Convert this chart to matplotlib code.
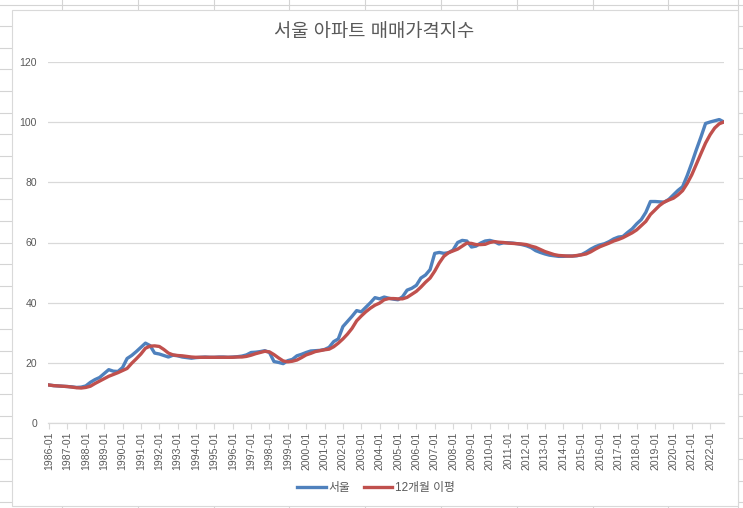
### Seoul apartment price index chart (Excel style look)

import numpy as np
import pandas as pd
import matplotlib
matplotlib.use("Agg")
import matplotlib.pyplot as plt
import matplotlib.dates as mdates
from matplotlib.lines import Line2D
from matplotlib.patches import Rectangle

plt.rcParams['font.family'] = ['Liberation Sans', 'Noto Sans CJK KR', 'DejaVu Sans']

# chart texts
title = '서울 아파트 매매가격지수'
series_names = ['서울', '12개월 이평']

# quarterly readings (Jan, Apr, Jul, Oct) from 1986-01 to 2022-10
seoul = [
    12.7, 12.5, 12.4, 12.3,   # 1986
    12.2, 12.1, 11.9, 12.0,   # 1987
    12.4, 13.6, 14.5, 15.2,   # 1988
    16.5, 17.8, 17.3, 17.2,   # 1989
    18.5, 21.5, 22.5, 23.8,   # 1990
    25.2, 26.6, 25.8, 23.3,   # 1991
    23.0, 22.5, 22.0, 22.6,   # 1992
    22.4, 22.0, 21.8, 21.6,   # 1993
    21.8, 21.9, 22.0, 21.9,   # 1994
    21.9, 22.0, 22.0, 21.9,   # 1995
    22.0, 22.1, 22.3, 22.7,   # 1996
    23.5, 23.6, 23.8, 24.1,   # 1997
    23.5, 20.5, 20.2, 19.8,   # 1998
    20.8, 21.2, 22.4, 22.9,   # 1999
    23.5, 24.0, 24.1, 24.2,   # 2000
    24.5, 25.2, 27.1, 28.0,   # 2001
    32.1, 33.8, 35.5, 37.4,   # 2002
    37.0, 38.5, 40.0, 41.7,   # 2003
    41.3, 41.9, 41.5, 41.2,   # 2004
    41.0, 42.0, 44.2, 44.8,   # 2005
    45.8, 48.2, 49.2, 51.0,   # 2006
    56.4, 56.7, 56.4, 56.6,   # 2007
    57.5, 60.0, 60.7, 60.5,   # 2008
    58.5, 58.8, 59.8, 60.5,   # 2009
    60.7, 60.3, 59.5, 59.9,   # 2010
    59.9, 59.8, 59.6, 59.3,   # 2011
    58.9, 58.3, 57.3, 56.7,   # 2012
    56.2, 55.8, 55.6, 55.4,   # 2013
    55.4, 55.5, 55.5, 55.6,   # 2014
    56.0, 56.8, 57.8, 58.6,   # 2015
    59.2, 59.6, 60.3, 61.2,   # 2016
    61.8, 62.0, 63.3, 64.5,   # 2017
    66.2, 67.6, 70.0, 73.6,   # 2018
    73.6, 73.5, 73.4, 74.3,   # 2019
    75.8, 77.3, 78.5, 82.2,   # 2020
    86.4, 90.8, 95.0, 99.5,   # 2021
    100.0, 100.4, 100.8, 100.0,  # 2022
]

moving_avg = [
    12.7, 12.5, 12.4, 12.3,   # 1986
    12.2, 12.0, 11.8, 11.7,   # 1987
    11.9, 12.3, 13.2, 14.0,   # 1988
    14.8, 15.6, 16.2, 16.8,   # 1989
    17.5, 18.2, 19.9, 21.4,   # 1990
    23.0, 24.9, 25.6, 25.7,   # 1991
    25.5, 24.5, 23.3, 22.7,   # 1992
    22.5, 22.4, 22.2, 22.0,   # 1993
    21.9, 21.9, 21.9, 21.9,   # 1994
    21.9, 21.9, 21.9, 21.9,   # 1995
    21.9, 22.0, 22.0, 22.2,   # 1996
    22.6, 23.1, 23.5, 23.9,   # 1997
    23.7, 22.8, 21.7, 20.7,   # 1998
    20.4, 20.6, 21.0, 21.8,   # 1999
    22.7, 23.2, 23.8, 24.1,   # 2000
    24.4, 24.6, 25.4, 26.6,   # 2001
    28.0, 29.6, 31.5, 34.0,   # 2002
    35.6, 37.0, 38.2, 39.2,   # 2003
    39.9, 41.0, 41.4, 41.4,   # 2004
    41.3, 41.3, 41.8, 42.8,   # 2005
    43.8, 45.2, 46.8, 48.2,   # 2006
    50.5, 53.2, 55.4, 56.6,   # 2007
    57.2, 57.8, 58.8, 59.8,   # 2008
    59.7, 59.3, 59.3, 59.4,   # 2009
    60.0, 60.3, 60.1, 60.0,   # 2010
    59.8, 59.7, 59.6, 59.5,   # 2011
    59.3, 58.8, 58.4, 57.7,   # 2012
    57.0, 56.5, 56.0, 55.7,   # 2013
    55.6, 55.5, 55.5, 55.7,   # 2014
    55.9, 56.2, 56.9, 57.8,   # 2015
    58.6, 59.2, 59.8, 60.5,   # 2016
    61.0, 61.6, 62.4, 63.2,   # 2017
    64.2, 65.6, 67.0, 69.3,   # 2018
    70.8, 72.3, 73.4, 74.1,   # 2019
    74.7, 75.8, 77.2, 79.6,   # 2020
    82.5, 86.0, 89.5, 93.0,   # 2021
    95.8, 98.0, 99.4, 100.0,  # 2022
]

dates = pd.date_range('1986-01-01', periods=len(seoul), freq='QS')

y_ticks = [0, 20, 40, 60, 80, 100, 120]

blue = '#4F81BD'
red = '#C0504D'
text_gray = '#595959'
grid_gray = '#D9D9D9'
cell_gray = '#D4D4D4'

W, H = 743, 508
fig = plt.figure(figsize=(W / 100, H / 100), dpi=100)

# spreadsheet cells behind the chart (pixel coordinates)
bg = fig.add_axes([0, 0, 1, 1], zorder=0)
bg.set_xlim(0, W)
bg.set_ylim(H, 0)
bg.axis('off')
for yy in np.arange(4.5, H, 21.65):
    bg.add_line(Line2D([0, W], [yy, yy], color=cell_gray, lw=0.8))
for xx in np.arange(62, W, 75.8):
    bg.add_line(Line2D([xx, xx], [0, H], color=cell_gray, lw=0.8))
bg.add_line(Line2D([738, 738], [0, H], color=cell_gray, lw=0.8))
# chart area (white box with thin border)
bg.add_patch(Rectangle((12, 9.5), 726, 496.5, facecolor='white',
                       edgecolor=grid_gray, lw=0.8, zorder=3))

# plot area
ax = fig.add_axes([48 / W, (H - 423.3) / H, (724 - 48) / W, (423.3 - 61.7) / H], zorder=2)
ax.patch.set_alpha(0)

ax.plot(dates, seoul, color=blue, lw=2.4, label=series_names[0], zorder=3)
ax.plot(dates, moving_avg, color=red, lw=2.4, label=series_names[1], zorder=4)

ax.set_ylim(0, 120)
ax.set_yticks(y_ticks)
ax.set_xlim(pd.Timestamp('1985-12-10'), pd.Timestamp('2022-10-03'))
ax.grid(axis='y', color=grid_gray, lw=0.9)
ax.set_axisbelow(True)

for s in ['top', 'right', 'left']:
    ax.spines[s].set_visible(False)
ax.spines['bottom'].set_color(grid_gray)
ax.spines['bottom'].set_linewidth(0.9)

ax.xaxis.set_major_locator(mdates.YearLocator(1, month=1, day=1))
ax.xaxis.set_major_formatter(mdates.DateFormatter('%Y-%m'))
ax.tick_params(axis='x', direction='out', length=4, color=grid_gray,
               labelsize=7.5, labelcolor=text_gray, rotation=90, pad=2)
ax.tick_params(axis='y', length=0, labelsize=7.5, labelcolor=text_gray, pad=8)

# title and legend
fig.text(374 / W, 1 - 33 / H, title, ha='center', va='center',
         fontsize=13.5, color=text_gray)
fig.legend(loc='center', bbox_to_anchor=(376 / W, 1 - 488 / H), ncol=2,
           frameon=False, fontsize=8.5, handlelength=2.4, handletextpad=0.2,
           columnspacing=1.2, labelcolor=text_gray)

fig.savefig('out.png', dpi=100)
